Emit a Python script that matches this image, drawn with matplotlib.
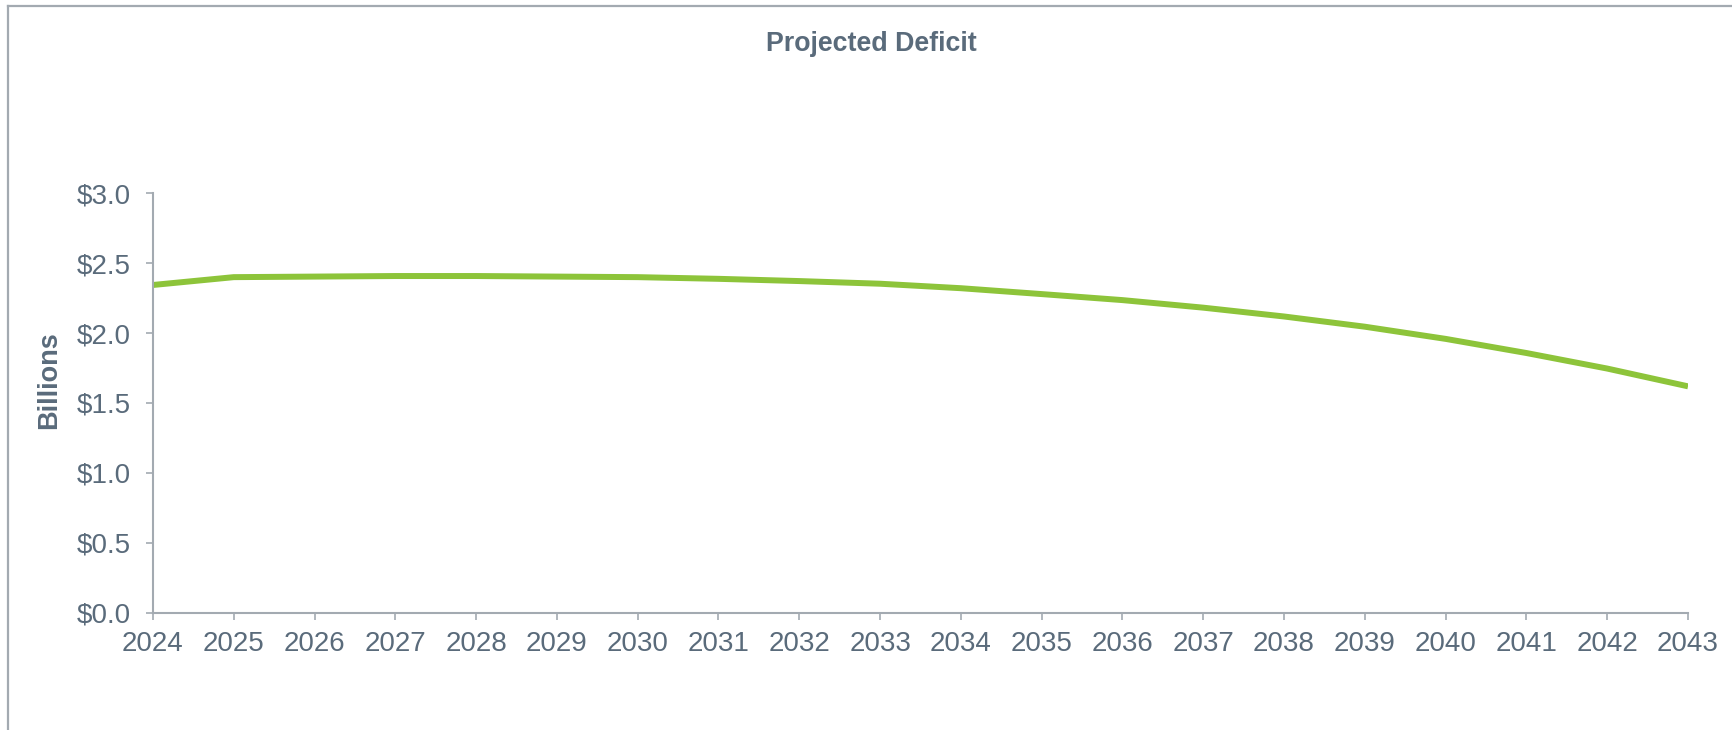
import matplotlib
matplotlib.use("Agg")
import matplotlib.pyplot as plt
from matplotlib.lines import Line2D

years = list(range(2024, 2044))
deficit = [2.343, 2.399, 2.403, 2.407, 2.407, 2.403, 2.399, 2.387, 2.371, 2.352,
           2.320, 2.278, 2.235, 2.181, 2.118, 2.045, 1.958, 1.857, 1.746, 1.619]
y_ticks = [0.0, 0.5, 1.0, 1.5, 2.0, 2.5, 3.0]
y_labels = ["$0.0", "$0.5", "$1.0", "$1.5", "$2.0", "$2.5", "$3.0"]
title = "Projected Deficit"
ylabel = "Billions"

text_color = "#5A6B7B"
axis_color = "#A3AAB1"
line_color = "#8DC43A"

plt.rcParams['font.family'] = ['Liberation Sans', 'DejaVu Sans']

fig = plt.figure(figsize=(17.32, 7.30), dpi=100)
ax = fig.add_axes([0.0883, 0.1603, 0.9746 - 0.0883, 0.5753])

ax.plot(years, deficit, color=line_color, lw=4.3, solid_capstyle='butt')

ax.set_xlim(2024, 2043)
ax.set_ylim(0, 3.0)
ax.set_xticks(years)
ax.set_xticklabels([str(y) for y in years])
ax.set_yticks(y_ticks)
ax.set_yticklabels(y_labels)

for s in ['top', 'right']:
    ax.spines[s].set_visible(False)
for s in ['left', 'bottom']:
    ax.spines[s].set_color(axis_color)
    ax.spines[s].set_linewidth(1.5)

ax.tick_params(axis='both', colors=axis_color, labelcolor=text_color,
               labelsize=20, length=5, width=1.2)
ax.tick_params(axis='y', pad=11)
ax.tick_params(axis='x', pad=8)

ax.set_ylabel(ylabel, fontsize=19.5, fontweight='bold', color=text_color)
ax.yaxis.set_label_coords(-0.0592, 0.555)

fig.text(871 / 1732, 1 - 44 / 730, title, ha='center', va='center',
         fontsize=19.3, fontweight='bold', color=text_color)

# outer frame (top and left edges visible)
fig.add_artist(Line2D([8 / 1732, 1.0], [1 - 6 / 730, 1 - 6 / 730],
                      transform=fig.transFigure, color=axis_color, lw=1.6))
fig.add_artist(Line2D([8 / 1732, 8 / 1732], [0.0, 1 - 6 / 730],
                      transform=fig.transFigure, color=axis_color, lw=1.6))

fig.savefig("out.png", dpi=100, facecolor="white")
